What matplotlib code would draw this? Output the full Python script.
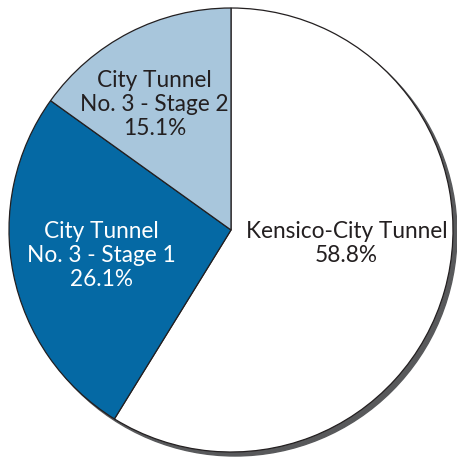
import matplotlib
matplotlib.use('Agg')
import matplotlib.pyplot as plt
import matplotlib.patches as mpatches

# share of flow by tunnel
labels = ['Kensico-City Tunnel', 'City Tunnel\nNo. 3 - Stage 1', 'City Tunnel\nNo. 3 - Stage 2']
shares = [58.8, 26.1, 15.1]
colors = ['#ffffff', '#0569a4', '#a8c6dc']
text_colors = ['#231f20', '#ffffff', '#231f20']
label_pos = [(0.52, -0.06), (-0.585, -0.115), (-0.345, 0.565)]

W, H, DPI = 457, 459, 100
R = 222.0
cx, cy = 231.0, 230.0

fig = plt.figure(figsize=(W / DPI, H / DPI), dpi=DPI)
ax = fig.add_axes([0, 0, 1, 1])

# grey shadow to the lower right
ax.add_patch(mpatches.Circle((4.0 / R, -4.0 / R), 1.0, color='#58595b', zorder=0))

ax.pie(shares, colors=colors, startangle=90, counterclock=False, radius=1.0,
       wedgeprops=dict(edgecolor='#231f20', linewidth=0.9), frame=True)
ax.set_xlim(-cx / R, (W - cx) / R)
ax.set_ylim(-(H - cy) / R, cy / R)
ax.set_aspect('auto')
ax.axis('off')

for lab, val, (x, y), tc in zip(labels, shares, label_pos, text_colors):
    ax.text(x, y, f'{lab}\n{val:.1f}%', ha='center', va='center', color=tc,
            fontsize=16.3, family='Lato', linespacing=1.2)

fig.savefig('out.png', dpi=DPI)
